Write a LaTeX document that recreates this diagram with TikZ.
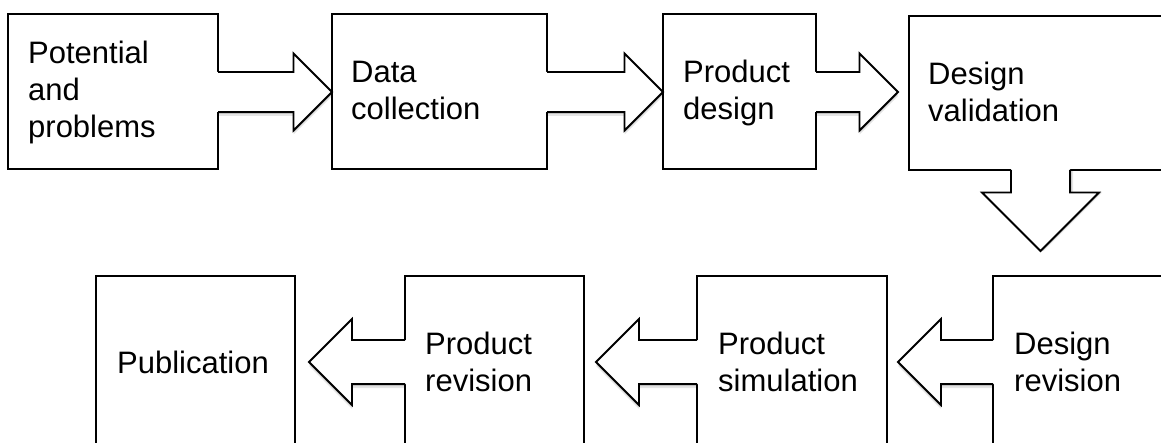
\documentclass[tikz,border=0pt]{standalone}
\usepackage{fontspec}
\setmainfont{Liberation Sans}
\usetikzlibrary{calc}
\tikzset{
  stepbox/.style={rectangle, inner sep=0pt, outer sep=0pt, anchor=north west},
  boxline/.style={draw=black, fill=white, line width=1.8pt},
  lbl/.style={anchor=base west, align=left, inner sep=0pt,
    font=\fontsize{31}{37}\selectfont},
  blkfill/.style={fill=white},
  blkline/.style={draw=black, line width=1.8pt, line join=miter},
  shadowA/.style={fill=black, opacity=0.16, shift={(1.5pt,-2pt)}},
  shadowB/.style={fill=black, opacity=0.10, shift={(3pt,-4pt)}},
}
% block arrows: #1 src, #2 dst, #3 centre, #4 gap, #5 shaft half, #6 head, #7 tail extension
\newcommand\blkRpath[7]{let \p1=(#1.east), \p2=(#2.west) in
  (\x1-#7,#3+#5) -- (\x2-#4-#6,#3+#5) -- (\x2-#4-#6,#3+#6) -- (\x2-#4,#3)
  -- (\x2-#4-#6,#3-#6) -- (\x2-#4-#6,#3-#5) -- (\x1-#7,#3-#5)}
\newcommand\blkLpath[7]{let \p1=(#1.west), \p2=(#2.east) in
  (\x1+#7,#3+#5) -- (\x2+#4+#6,#3+#5) -- (\x2+#4+#6,#3+#6) -- (\x2+#4,#3)
  -- (\x2+#4+#6,#3-#6) -- (\x2+#4+#6,#3-#5) -- (\x1+#7,#3-#5)}
\newcommand\blkDpath[7]{let \p1=(#1.south), \p2=(#2.north) in
  (#3-#5,\y1+#7) -- (#3-#5,\y2+#4+#6) -- (#3-#6,\y2+#4+#6) -- (#3,\y2+#4)
  -- (#3+#6,\y2+#4+#6) -- (#3+#5,\y2+#4+#6) -- (#3+#5,\y1+#7)}
\newcommand\blkshadow[7]{%
  \path[shadowB] \csname blk#1path\endcsname{#2}{#3}{#4}{#5}{#6}{#7}{0pt} -- cycle;
  \path[shadowA] \csname blk#1path\endcsname{#2}{#3}{#4}{#5}{#6}{#7}{0pt} -- cycle;
}
\newcommand\blkarrow[7]{%
  \path[blkfill] \csname blk#1path\endcsname{#2}{#3}{#4}{#5}{#6}{#7}{2pt} -- cycle;
  \path[blkline] \csname blk#1path\endcsname{#2}{#3}{#4}{#5}{#6}{#7}{0pt};
}
\newcommand\boxshadow[1]{%
  \path[shadowB] (#1.north west) rectangle (#1.south east);
  \path[shadowA] (#1.north west) rectangle (#1.south east);
}
\begin{document}
\begin{tikzpicture}[x=1pt,y=-1pt]
\useasboundingbox (0,0) rectangle (1161,443);
\fill[white] (0,0) rectangle (1161,443);
% box frames (named)
\node[stepbox, minimum width=210pt, minimum height=155pt] (A) at (8,14) {};
\node[stepbox, minimum width=215pt, minimum height=155pt] (B) at (332,14) {};
\node[stepbox, minimum width=153pt, minimum height=155pt] (C) at (663,14) {};
\node[stepbox, minimum width=300pt, minimum height=154pt] (D) at (909,16) {};
\node[stepbox, minimum width=220pt, minimum height=200pt] (E) at (993,276) {};
\node[stepbox, minimum width=190pt, minimum height=200pt] (F) at (697,276) {};
\node[stepbox, minimum width=179pt, minimum height=200pt] (G) at (405,276) {};
\node[stepbox, minimum width=199pt, minimum height=200pt] (H) at (96,276) {};
% shadows
\foreach \b in {A,B,C,D,E,F,G,H} {\boxshadow{\b}}
\blkshadow{R}{A}{B}{-92pt}{0pt}{20pt}{38.5pt}
\blkshadow{R}{B}{C}{-92pt}{0pt}{20pt}{38.5pt}
\blkshadow{R}{C}{D}{-92pt}{11pt}{20pt}{38.5pt}
\blkshadow{D}{D}{E}{1040.5pt}{25pt}{29.5pt}{58.5pt}
\blkshadow{L}{E}{F}{-362pt}{11pt}{22pt}{43pt}
\blkshadow{L}{F}{G}{-362pt}{12pt}{22pt}{43pt}
\blkshadow{L}{G}{H}{-362pt}{14pt}{22pt}{43pt}
% boxes
\foreach \b in {A,B,C,D,E,F,G,H} {\path[boxline] (\b.north west) rectangle (\b.south east);}
% arrows
\blkarrow{R}{A}{B}{-92pt}{0pt}{20pt}{38.5pt}
\blkarrow{R}{B}{C}{-92pt}{0pt}{20pt}{38.5pt}
\blkarrow{R}{C}{D}{-92pt}{11pt}{20pt}{38.5pt}
\blkarrow{D}{D}{E}{1040.5pt}{25pt}{29.5pt}{58.5pt}
\blkarrow{L}{E}{F}{-362pt}{11pt}{22pt}{43pt}
\blkarrow{L}{F}{G}{-362pt}{12pt}{22pt}{43pt}
\blkarrow{L}{G}{H}{-362pt}{14pt}{22pt}{43pt}
% labels (anchor at baseline of last line)
\node[lbl] (tA) at (28,138) {Potential\\and\\problems};
\node[lbl] (tB) at (351,120) {Data\\collection};
\node[lbl] (tC) at (683,120) {Product\\design};
\node[lbl] (tD) at (928,122) {Design\\validation};
\node[lbl] (tE) at (1014,391) {Design\\revision};
\node[lbl] (tF) at (718,391) {Product\\simulation};
\node[lbl] (tG) at (425,391) {Product\\revision};
\node[lbl] (tH) at (117,373) {Publication};
\end{tikzpicture}
\end{document}
